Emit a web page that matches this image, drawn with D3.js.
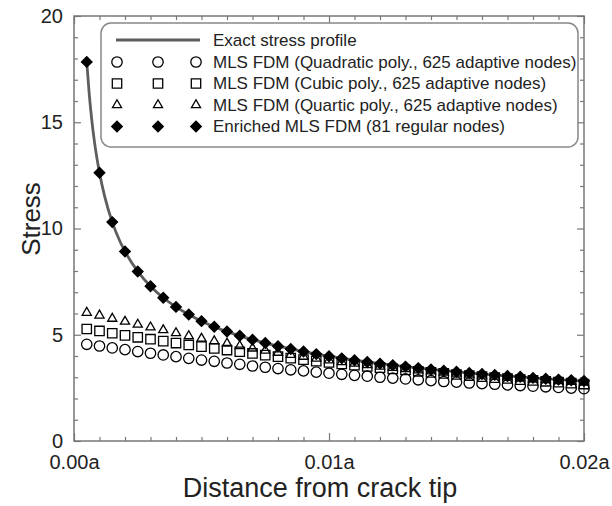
<!DOCTYPE html>
<html>
<head>
<meta charset="utf-8">
<script src="https://cdn.jsdelivr.net/npm/d3@7"></script>
<style>
body { margin: 0; background: #fff; }
text { font-family: "Liberation Sans", Arial, sans-serif; fill: #222; }
</style>
</head>
<body>
<svg id="chart" width="612" height="506"></svg>
<script>
// distance from crack tip (in units of a), regular node positions
let nodeX = [0.0005, 0.0010, 0.0015, 0.0020, 0.0025, 0.0030, 0.0035, 0.0040, 0.0045, 0.0050,
             0.0055, 0.0060, 0.0065, 0.0070, 0.0075, 0.0080, 0.0085, 0.0090, 0.0095, 0.0100,
             0.0105, 0.0110, 0.0115, 0.0120, 0.0125, 0.0130, 0.0135, 0.0140, 0.0145, 0.0150,
             0.0155, 0.0160, 0.0165, 0.0170, 0.0175, 0.0180, 0.0185, 0.0190, 0.0195, 0.0200];

// exact stress profile
let exactX = [0.0005, 0.0006, 0.0007, 0.0008, 0.0009, 0.0010, 0.0012, 0.0015, 0.0018, 0.0020,
              0.0025, 0.0030, 0.0035, 0.0040, 0.0045, 0.0050, 0.0060, 0.0070, 0.0080, 0.0090,
              0.0100, 0.0110, 0.0120, 0.0130, 0.0140, 0.0150, 0.0160, 0.0170, 0.0180, 0.0190, 0.0200];
let exactY = [17.84, 16.29, 15.08, 14.10, 13.30, 12.62, 11.52, 10.30, 9.40, 8.92,
              7.98, 7.28, 6.74, 6.31, 5.95, 5.64, 5.15, 4.77, 4.46, 4.21,
              3.99, 3.80, 3.64, 3.50, 3.37, 3.26, 3.15, 3.06, 2.97, 2.89, 2.82];

// MLS FDM, quadratic poly., 625 adaptive nodes
let quadY = [4.55, 4.47, 4.38, 4.30, 4.21, 4.13, 4.05, 3.97, 3.89, 3.81,
             3.75, 3.67, 3.61, 3.53, 3.47, 3.41, 3.35, 3.30, 3.24, 3.19,
             3.14, 3.09, 3.05, 3.00, 2.96, 2.92, 2.88, 2.84, 2.80, 2.77,
             2.73, 2.70, 2.67, 2.64, 2.61, 2.58, 2.55, 2.52, 2.49, 2.46];
// MLS FDM, cubic poly.
let cubicY = [5.27, 5.18, 5.07, 4.97, 4.88, 4.79, 4.70, 4.61, 4.52, 4.44,
              4.36, 4.28, 4.20, 4.12, 4.04, 3.97, 3.90, 3.83, 3.76, 3.70,
              3.63, 3.57, 3.51, 3.45, 3.39, 3.34, 3.28, 3.23, 3.18, 3.13,
              3.08, 3.03, 2.98, 2.94, 2.89, 2.85, 2.81, 2.77, 2.72, 2.68];
// MLS FDM, quartic poly.
let quarticY = [6.04, 5.91, 5.76, 5.62, 5.48, 5.35, 5.22, 5.08, 4.94, 4.82,
                4.70, 4.59, 4.47, 4.36, 4.26, 4.16, 4.06, 3.97, 3.88, 3.80,
                3.72, 3.65, 3.58, 3.51, 3.45, 3.39, 3.33, 3.28, 3.23, 3.18,
                3.13, 3.08, 3.04, 3.00, 2.95, 2.91, 2.87, 2.83, 2.79, 2.75];
// Enriched MLS FDM, 81 regular nodes
let enrichedY = [17.84, 12.62, 10.30, 8.92, 7.98, 7.28, 6.74, 6.31, 5.95, 5.64,
                 5.38, 5.15, 4.95, 4.77, 4.61, 4.46, 4.33, 4.21, 4.09, 3.99,
                 3.89, 3.80, 3.72, 3.64, 3.57, 3.50, 3.43, 3.37, 3.31, 3.26,
                 3.20, 3.15, 3.11, 3.06, 3.02, 2.97, 2.93, 2.89, 2.86, 2.82];

let xMajor = [0, 0.01, 0.02];
let yMajor = [0, 5, 10, 15, 20];
let legendLabels = ['Exact stress profile',
                    'MLS FDM (Quadratic poly., 625 adaptive nodes)',
                    'MLS FDM (Cubic poly., 625 adaptive nodes)',
                    'MLS FDM (Quartic poly., 625 adaptive nodes)',
                    'Enriched MLS FDM (81 regular nodes)'];

let svg = d3.select('#chart');
let x = d3.scaleLinear().domain([0, 0.02]).range([74, 584]);
let y = d3.scaleLinear().domain([0, 20]).range([441, 16]);

let xMinor = x.ticks(20).filter(d => xMajor.indexOf(+d.toFixed(3)) < 0);
let yMinor = y.ticks(20).filter(d => yMajor.indexOf(d) < 0);

function styleAxis(g) {
	g.select('.domain').remove();
	g.selectAll('.tick line').attr('stroke', '#777').attr('stroke-width', 1.2);
	g.selectAll('.tick text').style('font-size', '20px').attr('fill', '#222');
}

// ticks (all pointing inward)
svg.append('g').attr('transform', 'translate(0,441)')
	.call(d3.axisBottom(x).tickValues(xMajor).tickSize(-8).tickPadding(14)
		.tickFormat(d => d.toFixed(2) + 'a'))
	.call(styleAxis);
svg.append('g').attr('transform', 'translate(0,441)')
	.call(d3.axisBottom(x).tickValues(xMinor).tickSize(-4).tickFormat(''))
	.call(styleAxis);
svg.append('g').attr('transform', 'translate(0,16)')
	.call(d3.axisTop(x).tickValues(xMajor).tickSize(-8).tickFormat(''))
	.call(styleAxis);
svg.append('g').attr('transform', 'translate(0,16)')
	.call(d3.axisTop(x).tickValues(xMinor).tickSize(-4).tickFormat(''))
	.call(styleAxis);
svg.append('g').attr('transform', 'translate(74,0)')
	.call(d3.axisLeft(y).tickValues(yMajor).tickSize(-7).tickPadding(11))
	.call(styleAxis);
svg.append('g').attr('transform', 'translate(74,0)')
	.call(d3.axisLeft(y).tickValues(yMinor).tickSize(-4).tickFormat(''))
	.call(styleAxis);
svg.append('g').attr('transform', 'translate(584,0)')
	.call(d3.axisRight(y).tickValues(yMajor).tickSize(-7).tickFormat(''))
	.call(styleAxis);
svg.append('g').attr('transform', 'translate(584,0)')
	.call(d3.axisRight(y).tickValues(yMinor).tickSize(-4).tickFormat(''))
	.call(styleAxis);

svg.append('rect')
	.attr('x', 74).attr('y', 16).attr('width', 510).attr('height', 425)
	.attr('fill', 'none').attr('stroke', '#777').attr('stroke-width', 1.5);

// axis titles
svg.append('text')
	.attr('x', 320).attr('y', 497)
	.attr('text-anchor', 'middle')
	.style('font-size', '27px')
	.text('Distance from crack tip');
svg.append('text')
	.attr('transform', 'translate(40,219) rotate(-90)')
	.attr('text-anchor', 'middle')
	.style('font-size', '26px')
	.text('Stress');

// exact curve
let line = d3.line()
	.x((d, i) => x(exactX[i]))
	.y(d => y(d))
	.curve(d3.curveMonotoneX);
svg.append('path')
	.datum(exactY)
	.attr('d', line)
	.attr('fill', 'none')
	.attr('stroke', '#5e5e5e')
	.attr('stroke-width', 2.8);

let symCircle = d3.symbol().type(d3.symbolCircle).size(85)();
let symSquare = d3.symbol().type(d3.symbolSquare).size(88)();
let symTriangle = d3.symbol().type(d3.symbolTriangle).size(36)();
let symDiamond = d3.symbol().type(d3.symbolSquare).size(56)();

let series = [
	{ values: quadY, path: symCircle, fill: 'none', rot: 0 },
	{ values: cubicY, path: symSquare, fill: 'none', rot: 0 },
	{ values: quarticY, path: symTriangle, fill: 'none', rot: 0 },
	{ values: enrichedY, path: symDiamond, fill: '#000', rot: 45 }
];

series.forEach(function(s) {
	svg.append('g')
		.selectAll('path')
		.data(s.values)
		.enter()
		.append('path')
		.attr('d', s.path)
		.attr('transform', (d, i) => 'translate(' + x(nodeX[i]) + ',' + y(d) + ') rotate(' + s.rot + ')')
		.attr('fill', s.fill)
		.attr('stroke', '#000')
		.attr('stroke-width', 1.3);
});

// legend
let lg = svg.append('g');
lg.append('rect')
	.attr('x', 101).attr('y', 23).attr('width', 477).attr('height', 124)
	.attr('rx', 10)
	.attr('fill', '#fff').attr('stroke', '#888').attr('stroke-width', 1.5);

let rowY = [40, 62, 83.5, 105, 126.5];
let markX = [117, 158, 196];

lg.append('line')
	.attr('x1', 116).attr('x2', 200).attr('y1', rowY[0]).attr('y2', rowY[0])
	.attr('stroke', '#5e5e5e').attr('stroke-width', 2.8);

series.forEach(function(s, k) {
	markX.forEach(function(mx) {
		lg.append('path')
			.attr('d', s.path)
			.attr('transform', 'translate(' + mx + ',' + rowY[k + 1] + ') rotate(' + s.rot + ')')
			.attr('fill', s.fill)
			.attr('stroke', '#000')
			.attr('stroke-width', 1.3);
	});
});

lg.selectAll('text.lab')
	.data(legendLabels)
	.enter()
	.append('text')
	.attr('class', 'lab')
	.attr('x', 213)
	.attr('y', (d, i) => rowY[i])
	.attr('dy', '0.35em')
	.style('font-size', '17px')
	.text(d => d);
</script>
</body>
</html>
